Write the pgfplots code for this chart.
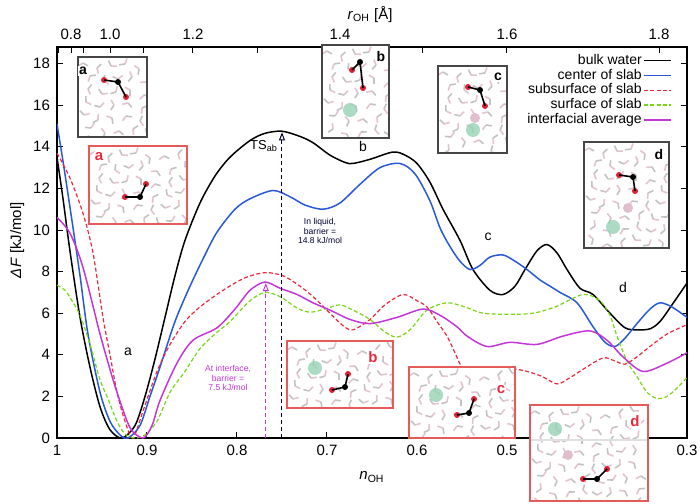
\documentclass[border=0pt]{standalone}
\usepackage{pgfplots}
\pgfplotsset{compat=1.18}
\usepackage{fontspec}
\setmainfont{Liberation Sans}
\usetikzlibrary{arrows.meta}
\definecolor{cblue}{RGB}{40,90,215}
\definecolor{cred}{RGB}{235,40,60}
\definecolor{cgreen}{RGB}{120,215,20}
\definecolor{cmag}{RGB}{195,55,215}
\definecolor{iframe}{RGB}{70,70,70}
\definecolor{rframe}{RGB}{230,90,90}
\definecolor{oball}{RGB}{225,30,50}
\definecolor{gball}{RGB}{150,210,180}
\definecolor{pball}{RGB}{225,190,205}
\definecolor{stickp}{RGB}{228,196,208}
\definecolor{stickg}{RGB}{195,195,195}
\newcommand{\mol}[6]{%
  \fill[oball] (#1,#2) circle (3);
  \fill[black] (#3,#4) circle (3);
  \fill[oball] (#5,#6) circle (3);
  \draw[black,line width=0.8pt] (#1,#2)--(#3,#4)--(#5,#6);}
\newcommand{\inset}[5]{%
  \fill[white] (#1,#2) rectangle (#3,#4);
  \begin{scope}
  \clip (#1,#2) rectangle (#3,#4);
  \foreach \i in {0,...,7}{\foreach \j in {0,...,7}{
    \pgfmathsetmacro\xx{#1+5+\i*14+mod(\j*7,9)}
    \pgfmathsetmacro\yy{#2+6+\j*13+mod(\i*5,7)}
    \pgfmathsetmacro\aa{mod(\i*73+\j*41,360)}
    \draw[stickp, line width=0.8pt, rotate around={\aa:(\xx,\yy)}] (\xx-5,\yy+3) -- (\xx,\yy);
    \draw[stickg, line width=0.8pt, rotate around={\aa:(\xx,\yy)}] (\xx,\yy) -- (\xx+5,\yy+3);
  }}
  \end{scope}
  \draw[#5, line width=0.6pt] (#1,#2) rectangle (#3,#4);}
\begin{document}
\begin{tikzpicture}
\path[use as bounding box] (0,0) rectangle (350pt,251.5pt);
\begin{axis}[
  at={(28.5pt,32.5pt)}, anchor=south west, scale only axis,
  width=315pt, height=195.5pt,
  x dir=reverse, xmin=0.3, xmax=1, ymin=0, ymax=18.8,
  xtick={1,0.9,0.8,0.7,0.6,0.5,0.4,0.3},
  xticklabels={1,0.9,0.8,0.7,0.6,0.5,0.4,0.3},
  ytick={0,2,...,18},
  xtick pos=left, ytick pos=both,
  tick align=inside, major tick length=3pt,
  tick style={black, line width=0.5pt},
  axis line style={line width=0.6pt},
  ticklabel style={font=\fontsize{7.5}{9}\selectfont},
  /pgf/number format/assume math mode=true,
  xlabel={\textit{n}\textsubscript{OH}},
  xlabel style={at={(axis description cs:0.5,-0.1)}, anchor=center, font=\fontsize{7.5}{9}\selectfont},
  ylabel={\textit{ΔF} [kJ/mol]},
  ylabel style={at={(axis description cs:-0.063,0.506)}, anchor=center, font=\fontsize{7.5}{9}\selectfont},
  legend style={at={(axis description cs:0.976,0.985)}, anchor=north east, draw=none, fill=none,
     font=\fontsize{7}{8}\selectfont, row sep=0pt, inner sep=0pt,
     nodes={inner sep=0.6pt, text height=4.9pt, text depth=1.3pt}},
  legend cell align=right, legend plot pos=right,
  legend image code/.code={\draw[#1] (0pt,0pt) -- (13.5pt,0pt);},
]
\addplot[black, line width=0.75pt, smooth] coordinates {
(1.0000,13.5) (0.9933,11.5) (0.9856,9.0) (0.9744,5.8) (0.9633,3.4) (0.9522,1.5) (0.9411,0.4) (0.9278,0.0) (0.9133,0.6) (0.9022,2.0) (0.8911,3.8) (0.8800,5.8) (0.8689,7.8) (0.8578,9.5) (0.8411,11.3) (0.8244,12.6) (0.8078,13.5) (0.7856,14.3) (0.7689,14.65) (0.7500,14.75) (0.7300,14.5) (0.7156,14.2) (0.6967,13.6) (0.6800,13.25) (0.6711,13.2) (0.6522,13.4) (0.6267,13.75) (0.6133,13.6) (0.6000,13.2) (0.5856,12.3) (0.5711,11.0) (0.5522,9.5) (0.5378,8.1) (0.5189,7.1) (0.5044,6.9) (0.4911,7.3) (0.4800,8.1) (0.4667,9.0) (0.4556,9.3) (0.4444,8.9) (0.4333,8.1) (0.4189,7.2) (0.4044,6.9) (0.3856,6.0) (0.3689,5.3) (0.3556,5.2) (0.3411,5.25) (0.3300,5.6) (0.3167,6.4) (0.3000,7.45)};
\addlegendentry{bulk water}
\addplot[cblue, line width=0.75pt, smooth] coordinates {
(1.0000,15.1) (0.9933,13.3) (0.9856,11.1) (0.9744,7.8) (0.9656,5.0) (0.9522,2.2) (0.9411,0.8) (0.9300,0.15) (0.9211,0.0) (0.9078,0.6) (0.8967,2.0) (0.8856,3.4) (0.8689,5.6) (0.8522,7.3) (0.8356,8.8) (0.8222,9.9) (0.8022,11.0) (0.7856,11.5) (0.7600,11.9) (0.7411,11.6) (0.7244,11.2) (0.7044,11.0) (0.6856,11.3) (0.6633,12.2) (0.6411,13.0) (0.6189,13.2) (0.6022,12.7) (0.5856,11.4) (0.5744,10.1) (0.5633,9.2) (0.5522,8.5) (0.5411,8.1) (0.5300,8.3) (0.5189,8.7) (0.5044,8.8) (0.4911,8.5) (0.4778,8.1) (0.4633,7.6) (0.4522,7.3) (0.4411,7.0) (0.4222,6.5) (0.4044,5.35) (0.3911,4.6) (0.3800,4.4) (0.3689,4.8) (0.3556,5.5) (0.3411,6.2) (0.3300,6.5) (0.3167,6.3) (0.3000,5.8)};
\addlegendentry{center of slab}
\addplot[cred, line width=0.6pt, smooth, dash pattern=on 2pt off 1.2pt] coordinates {
(1.0000,13.7) (0.9856,12.5) (0.9711,10.8) (0.9600,8.9) (0.9489,5.8) (0.9411,4.0) (0.9333,2.2) (0.9244,0.8) (0.9156,0.0) (0.9044,1.3) (0.8889,3.2) (0.8744,4.5) (0.8578,5.6) (0.8411,6.3) (0.8156,7.1) (0.7911,7.7) (0.7689,7.95) (0.7489,7.8) (0.7300,7.3) (0.7156,6.8) (0.6967,6.0) (0.6822,5.4) (0.6711,5.2) (0.6522,5.7) (0.6356,6.4) (0.6156,6.9) (0.6000,6.6) (0.5889,6.3) (0.5778,5.6) (0.5667,4.9) (0.5578,4.1) (0.5489,3.4) (0.5267,3.3) (0.4889,3.3) (0.4633,3.0) (0.4444,2.6) (0.4300,2.9) (0.4156,3.3) (0.3933,3.85) (0.3800,3.7) (0.3689,3.55) (0.3556,3.9) (0.3411,4.4) (0.3222,5.0) (0.3000,5.45)};
\addlegendentry{subsurface of slab}
\addplot[cgreen, line width=0.6pt, smooth, dash pattern=on 2pt off 1.2pt] coordinates {
(1.0000,7.35) (0.9911,7.1) (0.9833,6.6) (0.9744,5.9) (0.9633,4.5) (0.9522,2.8) (0.9444,2.0) (0.9333,0.8) (0.9244,0.2) (0.9133,0.0) (0.9022,0.15) (0.8889,0.8) (0.8744,2.2) (0.8578,3.2) (0.8411,4.3) (0.8244,5.0) (0.8078,5.6) (0.7856,6.6) (0.7689,7.0) (0.7522,6.8) (0.7333,6.25) (0.7189,6.05) (0.7022,6.2) (0.6856,6.4) (0.6689,6.1) (0.6522,5.7) (0.6356,5.1) (0.6222,4.85) (0.6078,5.2) (0.5889,6.15) (0.5667,6.5) (0.5467,6.3) (0.5267,6.0) (0.4967,5.95) (0.4711,6.0) (0.4467,6.3) (0.4156,6.9) (0.3967,6.6) (0.3856,5.9) (0.3778,4.9) (0.3667,3.7) (0.3556,2.95) (0.3444,2.2) (0.3333,1.9) (0.3222,2.0) (0.3111,2.4) (0.3000,2.9)};
\addlegendentry{surface of slab}
\addplot[cmag, line width=0.75pt, smooth] coordinates {
(1.0000,10.6) (0.9856,9.85) (0.9711,8.2) (0.9522,5.0) (0.9411,3.3) (0.9333,2.2) (0.9189,0.5) (0.9044,0.0) (0.8944,0.6) (0.8856,1.8) (0.8667,3.6) (0.8489,4.7) (0.8222,5.3) (0.8022,6.2) (0.7856,7.1) (0.7689,7.5) (0.7522,7.2) (0.7333,6.9) (0.7156,6.5) (0.6967,6.15) (0.6744,5.7) (0.6522,5.5) (0.6222,5.8) (0.5933,6.2) (0.5744,5.9) (0.5556,5.35) (0.5444,4.9) (0.5222,4.4) (0.4967,4.6) (0.4667,4.5) (0.4378,4.9) (0.4078,5.15) (0.3889,4.7) (0.3711,3.9) (0.3489,3.2) (0.3222,3.6) (0.3000,4.1)};
\addlegendentry{interfacial average}
\addplot[black!80!blue, line width=0.5pt, dash pattern=on 2pt off 1.5pt, -{Triangle[open,length=4pt,width=3pt]}, forget plot] coordinates {(0.75,0) (0.75,14.7)};
\addplot[cmag, line width=0.5pt, dash pattern=on 2pt off 1.5pt, -{Triangle[open,length=4pt,width=3pt]}, forget plot] coordinates {(0.768,0) (0.768,7.45)};
\end{axis}
\begin{axis}[
  at={(28.5pt,32.5pt)}, anchor=south west, scale only axis,
  width=315pt, height=195.5pt,
  x dir=reverse, xmin=0.3, xmax=1, ymin=0, ymax=18.8,
  axis x line*=top, axis y line=none,
  xtick={0.998,0.9844,0.970,0.9411,0.9044,0.8489,0.7767,0.6856,0.5944,0.5,0.3311},
  xticklabels={,0.8,,1.0,,1.2,,1.4,,1.6,1.8},
  tick align=inside, major tick length=3pt,
  tick style={black, line width=0.5pt},
  axis line style={line width=0.6pt},
  ticklabel style={font=\fontsize{7.5}{9}\selectfont},
  /pgf/number format/assume math mode=true,
  xlabel={\textit{r}\textsubscript{OH} [Å]},
  xlabel style={at={(axis description cs:0.497,1.084)}, anchor=center, font=\fontsize{7.5}{9}\selectfont},
]
\addplot[draw=none] coordinates {(0.5,1)};
\end{axis}
\begin{scope}[shift={(0pt,251.5pt)}, x=0.5pt, y=-0.5pt]
  % insets (black frames)
  \inset{78}{57}{147}{137}{iframe}
  \inset{322}{45}{389}{138}{iframe}
  \inset{438}{66}{507}{153}{iframe}
  \inset{584}{142}{669}{248}{iframe}
  % insets (red frames)
  \inset{89}{146}{187}{224}{rframe}
  \inset{287}{341}{393}{408}{rframe}
  \inset{409}{367}{515}{438}{rframe}
  \inset{530}{405}{648}{501}{rframe}
  \draw[black!12, line width=0.8pt] (531,440) -- (647,440);
  % decorations
  \fill[gball,opacity=0.8] (350,110) circle (7);
  \fill[pball] (475,118) circle (5); \fill[gball,opacity=0.8] (473,130) circle (7);
  \fill[pball] (628,208) circle (5); \fill[gball,opacity=0.8] (613,227) circle (7);
  \fill[gball,opacity=0.8] (315,368) circle (7);
  \fill[gball,opacity=0.8] (436,395) circle (7);
  \fill[gball,opacity=0.8] (555,429) circle (7); \fill[pball] (568,455) circle (5);
  \mol{104}{80}{118}{82}{126}{97}
  \mol{125}{197}{140}{197}{146}{184}
  \mol{352}{70}{360}{62}{363}{88}
  \mol{468}{87}{480}{90}{485}{106}
  \mol{619}{175}{633}{177}{635}{191}
  \mol{332}{390}{345}{387}{348}{374}
  \mol{457}{415}{469}{413}{474}{399}
  \mol{583}{479}{597}{479}{607}{469}
  % inset letters
  \node[font=\fontsize{7}{8}\selectfont\bfseries, fill=white, inner sep=0.5pt] at (83,71) {a};
  \node[font=\fontsize{7}{8}\selectfont\bfseries, fill=white, inner sep=0.5pt] at (381,57) {b};
  \node[font=\fontsize{7}{8}\selectfont\bfseries, fill=white, inner sep=0.5pt] at (498,77) {c};
  \node[font=\fontsize{7}{8}\selectfont\bfseries, fill=white, inner sep=0.5pt] at (659,155) {d};
  \node[font=\fontsize{7.5}{8}\selectfont\bfseries, text=cred, fill=white, inner sep=0.5pt] at (99,157) {a};
  \node[font=\fontsize{7.5}{8}\selectfont\bfseries, text=cred, fill=white, inner sep=0.5pt] at (373,357) {b};
  \node[font=\fontsize{7.5}{8}\selectfont\bfseries, text=cred, fill=white, inner sep=0.5pt] at (501,390) {c};
  \node[font=\fontsize{7.5}{8}\selectfont\bfseries, text=cred, fill=white, inner sep=0.5pt] at (635,421) {d};
  % curve labels
  \node[font=\fontsize{7}{8}\selectfont] at (128,352) {a};
  \node[font=\fontsize{7}{8}\selectfont] at (363,147) {b};
  \node[font=\fontsize{7}{8}\selectfont] at (488,237) {c};
  \node[font=\fontsize{7}{8}\selectfont] at (623,287) {d};
  \node[font=\fontsize{6.5}{8}\selectfont] at (264,146) {TS\textsubscript{ab}};
  \node[font=\fontsize{4.3}{4.6}\selectfont, align=center, text=black!80!blue] at (320,231) {In liquid,\\barrier =\\14.8 kJ/mol};
  \node[font=\fontsize{4.3}{4.6}\selectfont, align=center, text=cmag] at (228,378) {At interface,\\barrier =\\7.5 kJ/mol};
\end{scope}
\end{tikzpicture}
\end{document}
